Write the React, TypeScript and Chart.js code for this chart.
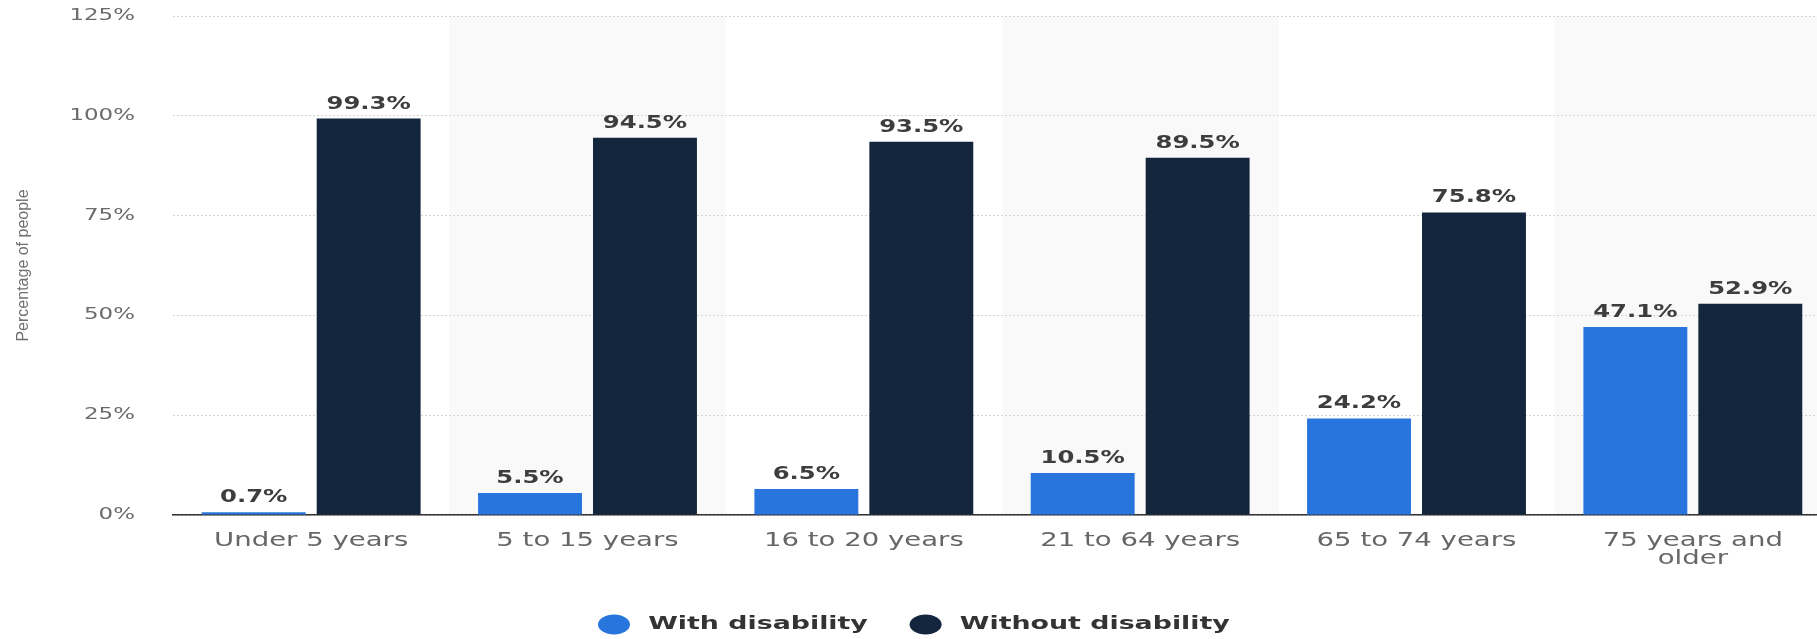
import React, { useEffect, useRef } from "react";
import { Chart, registerables } from "chart.js";

Chart.register(...registerables);

const categories: (string | string[])[] = [
  "Under 5 years",
  "5 to 15 years",
  "16 to 20 years",
  "21 to 64 years",
  "65 to 74 years",
  ["75 years and", "older"],
];
const withDisability = [0.7, 5.5, 6.5, 10.5, 24.2, 47.1];
const withoutDisability = [99.3, 94.5, 93.5, 89.5, 75.8, 52.9];
const seriesNames = ["With disability", "Without disability"];
const yTicks = [0, 25, 50, 75, 100, 125];
const yTitle = "Percentage of people";

const BLUE = "#2876dd";
const DARK = "#14263d";

// Temporarily make fillText draw horizontally stretched glyphs (and optionally measure them stretched).
function withStretch(ctx: any, sx: number, dx: number, extra: number | null, fn: () => void) {
  const origFill = ctx.fillText;
  const origMeasure = ctx.measureText;
  ctx.fillText = function (t: string, x: number, y: number) {
    this.save();
    this.translate(x + dx, y);
    this.scale(sx, 1);
    origFill.call(this, t, 0, 0);
    this.restore();
  };
  if (extra !== null) {
    ctx.measureText = function (t: string) {
      const m = origMeasure.call(this, t);
      return { width: m.width * sx + extra };
    };
  }
  try {
    fn();
  } finally {
    delete ctx.fillText;
    delete ctx.measureText;
  }
}

const stretchPlugin = {
  id: "stretchText",
  beforeDraw(chart: any) {
    const cfg: Record<string, number> = { x: 1.45, y: 1.48 };
    for (const id of ["x", "y"]) {
      const s: any = chart.scales[id];
      if (s && !s.__wrapped) {
        const orig = s.drawLabels;
        s.drawLabels = function (area: any) {
          withStretch(this.ctx, cfg[id], 0, null, () => orig.call(this, area));
        };
        s.__wrapped = true;
      }
    }
    const lg: any = chart.legend;
    if (lg && !lg.__wrapped) {
      const origDraw = lg.draw;
      lg.draw = function (area: any) {
        withStretch(this.ctx, 1.45, 9, 9, () => origDraw.call(this, area));
      };
      lg.__wrapped = true;
    }
  },
};

const bandPlugin = {
  id: "bands",
  beforeDraw(chart: any) {
    const { ctx, chartArea } = chart;
    const xs = chart.scales.x;
    const n = chart.data.labels.length;
    const w = (xs.right - xs.left) / n;
    ctx.save();
    ctx.fillStyle = "#f9f9f9";
    for (let i = 1; i < n; i += 2) {
      const cx = xs.getPixelForValue(i);
      ctx.fillRect(cx - w / 2, chartArea.top, w, chartArea.bottom - chartArea.top);
    }
    ctx.restore();
  },
};

const valueLabelPlugin = {
  id: "valueLabels",
  afterDatasetsDraw(chart: any) {
    const { ctx } = chart;
    chart.data.datasets.forEach((ds: any, di: number) => {
      const meta = chart.getDatasetMeta(di);
      meta.data.forEach((bar: any, i: number) => {
        const v = ds.data[i] as number;
        ctx.save();
        ctx.font = 'bold 18px "DejaVu Sans"';
        ctx.fillStyle = "#3d3d3d";
        ctx.textAlign = "center";
        ctx.textBaseline = "alphabetic";
        ctx.translate(bar.x, bar.y - 10);
        ctx.scale(1.35, 1);
        ctx.fillText(v.toFixed(1) + "%", 0, 0);
        ctx.restore();
      });
    });
  },
};

const legendShiftPlugin = {
  id: "legendShift",
  afterLayout(chart: any) {
    if (chart.legend) {
      chart.legend.left = 556.25;
    }
  },
};

export default function App() {
  const ref = useRef<HTMLCanvasElement | null>(null);
  useEffect(() => {
    if (!ref.current) return;
    const chart = new Chart(ref.current, {
      type: "bar",
      data: {
        labels: categories as any,
        datasets: [
          {
            label: seriesNames[0],
            data: withDisability,
            backgroundColor: BLUE,
            borderWidth: 0,
            categoryPercentage: 0.832,
            barPercentage: 0.904,
          },
          {
            label: seriesNames[1],
            data: withoutDisability,
            backgroundColor: DARK,
            borderWidth: 0,
            categoryPercentage: 0.832,
            barPercentage: 0.904,
          },
        ],
      },
      options: {
        animation: false,
        responsive: true,
        maintainAspectRatio: false,
        devicePixelRatio: 1,
        layout: { padding: { top: 16, bottom: 0, left: 0, right: 0 } },
        plugins: {
          tooltip: { enabled: false },
          legend: {
            position: "bottom",
            align: "start",
            maxHeight: 65.5,
            labels: {
              usePointStyle: true,
              pointStyle: "circle",
              boxHeight: 14.1,
              pointStyleWidth: 32,
              padding: 41.75,
              color: "#333333",
              font: { family: "'DejaVu Sans'", size: 18.5, weight: "bold" },
            },
          },
        },
        scales: {
          x: {
            grid: { display: false },
            border: { display: true, color: "#333333", width: 1.5 },
            ticks: {
              color: "#666666",
              font: { family: "'DejaVu Sans'", size: 19, lineHeight: 0.95 },
              maxRotation: 0,
              minRotation: 0,
              autoSkip: false,
              padding: 9,
            },
            afterFit: (s: any) => {
              s.height = 58.5;
            },
          },
          y: {
            min: 0,
            max: 125,
            afterBuildTicks: (s: any) => {
              s.ticks = yTicks.map((v) => ({ value: v }));
            },
            ticks: {
              color: "#6b6b6b",
              font: { family: "'DejaVu Sans'", size: 15.5 },
              padding: 38,
              callback: (v: any) => v + "%",
            },
            grid: { color: "#d2d2d2", drawTicks: false, lineWidth: 1 },
            border: { display: false, dash: [2, 2] },
            title: {
              display: true,
              text: yTitle,
              color: "#707070",
              font: { family: "'Liberation Sans'", size: 16 },
              padding: { top: 14.4, bottom: 0 },
            },
            afterFit: (s: any) => {
              s.width = 173;
              s.paddingTop = 10;
              s.paddingBottom = 10;
            },
          },
        },
      },
      plugins: [bandPlugin, stretchPlugin, valueLabelPlugin, legendShiftPlugin],
    });
    return () => chart.destroy();
  }, []);

  return (
    <div
      style={{
        position: "absolute",
        left: 0,
        top: 0,
        width: 1817,
        height: 639,
        overflow: "hidden",
        background: "#ffffff",
      }}
    >
      <div style={{ position: "relative", width: 1831, height: 639 }}>
        <canvas ref={ref} />
      </div>
    </div>
  );
}
